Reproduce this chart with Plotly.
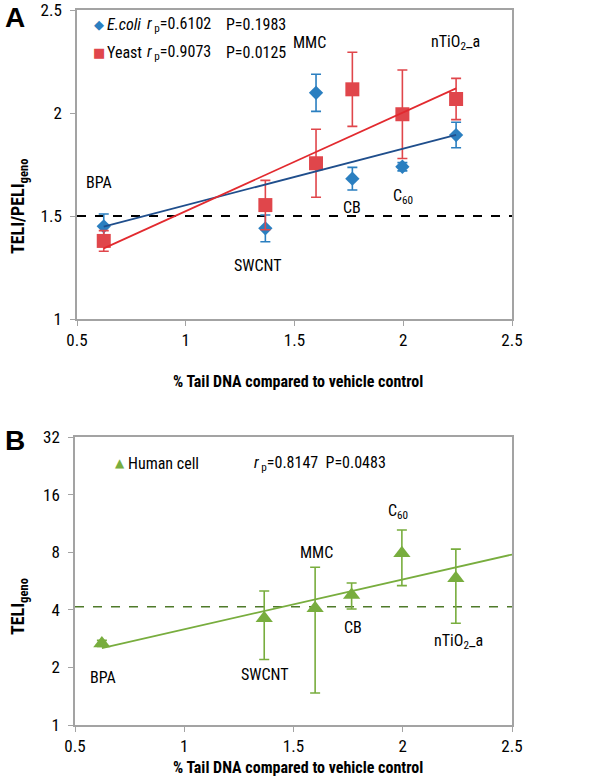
import numpy as np
import plotly.graph_objects as go

# ---------------- data ----------------
compounds = ["BPA", "SWCNT", "MMC", "CB", "C60", "nTiO2_a"]
tail_dna = [0.623, 1.366, 1.599, 1.766, 1.996, 2.243]

ecoli_ratio = [1.45, 1.44, 2.098, 1.681, 1.739, 1.893]
ecoli_err = [0.06, 0.065, 0.09, 0.055, 0.02, 0.062]

yeast_ratio = [1.379, 1.553, 1.756, 2.115, 1.994, 2.068]
yeast_err = [0.05, 0.12, 0.165, 0.18, 0.215, 0.10]

human_teli = [2.67, 3.61, 4.07, 4.78, 7.9, 5.85]
human_err = [0.1, 1.41, 2.6, 0.74, 2.55, 2.45]

threshold_a = 1.5
threshold_b = 4.15

ytick_a = [1, 1.5, 2, 2.5]
ytick_b = [1, 2, 4, 8, 16, 32]
xtick = [0.5, 1, 1.5, 2, 2.5]
xtick_text = ["0.5", "1", "1.5", "2", "2.5"]

stats_ecoli = ("0.6102", "0.1983")
stats_yeast = ("0.9073", "0.0125")
stats_human = ("0.8147", "0.0483")

# label text positions (x, y) in data units
labels_a = {"BPA": (0.60, 1.665), "SWCNT": (1.332, 1.262), "MMC": (1.571, 2.34),
            "CB": (1.764, 1.539), "C60": (1.999, 1.594), "nTiO2_a": (2.238, 2.34)}
labels_b = {"BPA": (0.627, 1.77), "SWCNT": (1.371, 1.84), "MMC": (1.607, 7.95),
            "CB": (1.772, 3.22), "C60": (1.979, 13.0), "nTiO2_a": (2.253, 2.72)}
label_html = {"BPA": "BPA", "SWCNT": "SWCNT", "MMC": "MMC", "CB": "CB",
              "C60": "C<sub>60</sub>", "nTiO2_a": "nTiO<sub>2</sub>_a"}

# ---------------- style ----------------
FONT = "Liberation Sans Narrow, Arial Narrow, Roboto Condensed, Liberation Sans, Arial, sans-serif"
BOLDFONT = "Liberation Sans, Arial, sans-serif"
BLUE = "#2b7fc0"
BLUE_LINE = "#1f4e8c"
RED = "#e0464b"
RED_LINE = "#e22a2f"
GREEN = "#78ad3e"
GREEN_DASH = "#4f7a2a"
AXIS = "#a3a3a3"

W, H = 600, 783


def px(xp, yp):
    return xp / W, 1 - yp / H


def xdom(a, b):
    return [a / W, b / W]


def ydom(top, bottom):
    return [1 - bottom / H, 1 - top / H]


x = np.array(tail_dna)

fig = go.Figure()


def fit_line(xs, ys, xe):
    k, b = np.polyfit(xs, ys, 1)
    return [k * v + b for v in xe]


# ---- Panel A ----
x_ends = [x.min(), x.max()]
fig.add_trace(go.Scatter(x=[0.5, 2.5], y=[threshold_a, threshold_a], mode="lines",
                         line=dict(color="black", width=2, dash="dash"),
                         xaxis="x", yaxis="y", showlegend=False, hoverinfo="skip"))
fig.add_trace(go.Scatter(x=tail_dna, y=ecoli_ratio, mode="markers",
                         marker=dict(symbol="diamond", size=11, color=BLUE),
                         error_y=dict(type="data", array=ecoli_err, color=BLUE, thickness=1.6, width=5),
                         xaxis="x", yaxis="y", showlegend=False))
fig.add_trace(go.Scatter(x=tail_dna, y=yeast_ratio, mode="markers",
                         marker=dict(symbol="square", size=14, color=RED),
                         error_y=dict(type="data", array=yeast_err, color=RED, thickness=1.6, width=5),
                         xaxis="x", yaxis="y", showlegend=False))
fig.add_trace(go.Scatter(x=x_ends, y=fit_line(x, np.array(ecoli_ratio), x_ends), mode="lines",
                         line=dict(color=BLUE_LINE, width=1.8), xaxis="x", yaxis="y",
                         showlegend=False, hoverinfo="skip"))
fig.add_trace(go.Scatter(x=x_ends, y=fit_line(x, np.array(yeast_ratio), x_ends), mode="lines",
                         line=dict(color=RED_LINE, width=1.8), xaxis="x", yaxis="y",
                         showlegend=False, hoverinfo="skip"))

# ---- Panel B ----
fig.add_trace(go.Scatter(x=[0.5, 2.5], y=[threshold_b, threshold_b], mode="lines",
                         line=dict(color=GREEN_DASH, width=1.6, dash="dash"),
                         xaxis="x2", yaxis="y2", showlegend=False, hoverinfo="skip"))
fig.add_trace(go.Scatter(x=tail_dna, y=human_teli, mode="markers",
                         marker=dict(symbol="triangle-up", size=15, color=GREEN),
                         error_y=dict(type="data", array=human_err, color=GREEN, thickness=1.6, width=5),
                         xaxis="x2", yaxis="y2", showlegend=False))
kb, bb = np.polyfit(x, np.log(np.array(human_teli)), 1)
xb_ends = [x.min(), 2.5]
fig.add_trace(go.Scatter(x=xb_ends, y=[float(np.exp(kb * v + bb)) for v in xb_ends], mode="lines",
                         line=dict(color=GREEN, width=1.8), xaxis="x2", yaxis="y2",
                         showlegend=False, hoverinfo="skip"))

axis_common = dict(showline=True, linecolor=AXIS, linewidth=1.6, mirror=True,
                   ticks="outside", tickcolor=AXIS, ticklen=5, tickwidth=1.4,
                   showgrid=False, zeroline=False, automargin=False, ticklabeloverflow="allow",
                   tickfont=dict(family=FONT, size=17, color="black"))

fig.update_layout(
    width=W, height=H, margin=dict(l=0, r=0, t=0, b=0, autoexpand=False),
    paper_bgcolor="white", plot_bgcolor="white",
    xaxis=dict(domain=xdom(77, 512), range=[0.5, 2.5], tickvals=xtick, ticktext=xtick_text,
               anchor="y", **axis_common),
    yaxis=dict(domain=ydom(10, 319), range=[1, 2.5], tickvals=ytick_a,
               ticktext=[str(v) for v in ytick_a], anchor="x", ticklabelstandoff=5, **axis_common),
    xaxis2=dict(domain=xdom(75, 512), range=[0.5, 2.5], tickvals=xtick, ticktext=xtick_text,
                anchor="y2", **axis_common),
    yaxis2=dict(domain=ydom(437, 725), type="log", range=[0, np.log10(32)],
                tickvals=ytick_b, ticktext=[str(v) for v in ytick_b], anchor="x2",
                ticklabelstandoff=5, **axis_common),
)

ann = []
C = dict(xanchor="center", yanchor="middle", showarrow=False)
lbl_font = dict(family=FONT, size=16, color="black")
for c in compounds:
    lx, ly = labels_a[c]
    ann.append(dict(x=lx, y=ly, xref="x", yref="y", text=label_html[c], font=lbl_font, **C))
    lx, ly = labels_b[c]
    ann.append(dict(x=lx, y=float(np.log10(ly)), xref="x2", yref="y2", text=label_html[c],
                    font=lbl_font, **C))

L = dict(xanchor="left", yanchor="middle", showarrow=False, xref="paper", yref="paper")
leg_font = dict(family=FONT, size=16, color="black")
legend_rows = [
    (25, "◆", BLUE, "<i>E.coli</i>", stats_ecoli),
    (52, "■", RED, "Yeast", stats_yeast),
]
for yp, glyph, col, name, (r, p) in legend_rows:
    ax_, ay_ = px(99, yp)
    ann.append(dict(x=ax_, y=ay_, xref="paper", yref="paper", text=glyph,
                    font=dict(family="DejaVu Sans", size=13, color=col), **C))
    ax_, ay_ = px(105, yp)
    ann.append(dict(x=ax_, y=ay_, text=name, font=leg_font, **L))
    ax_, ay_ = px(145, yp)
    ann.append(dict(x=ax_, y=ay_, text="<i>r</i><sub> p</sub>=" + r, font=leg_font, **L))
    ax_, ay_ = px(224, yp)
    ann.append(dict(x=ax_, y=ay_, text="P=" + p, font=leg_font, **L))

ax_, ay_ = px(120, 463)
ann.append(dict(x=ax_, y=ay_, xref="paper", yref="paper", text="▲",
                font=dict(family="DejaVu Sans", size=12, color=GREEN), **C))
ax_, ay_ = px(126, 463)
ann.append(dict(x=ax_, y=ay_, text="Human cell", font=leg_font, **L))
ax_, ay_ = px(252, 463)
ann.append(dict(x=ax_, y=ay_, text=f"<i>r</i><sub> p</sub>={stats_human[0]}  P={stats_human[1]}",
                font=leg_font, **L))

# panel letters
for letter, yp in (("A", 17), ("B", 440)):
    ax_, ay_ = px(15, yp)
    ann.append(dict(x=ax_, y=ay_, xref="paper", yref="paper", text=f"<b>{letter}</b>",
                    font=dict(family=BOLDFONT, size=28, color="black"), **C))

# axis titles
title_font = dict(family=FONT, size=16, color="black")
for yp in (381, 767):
    ax_, ay_ = px(298, yp)
    ann.append(dict(x=ax_, y=ay_, xref="paper", yref="paper",
                    text="<b>% Tail DNA compared to vehicle control</b>", font=title_font, **C))
ax_, ay_ = px(19, 207)
ann.append(dict(x=ax_, y=ay_, xref="paper", yref="paper", text="<b>TELI/PELI<sub>geno</sub></b>",
                textangle=-90, font=dict(family=FONT, size=18, color="black"), **C))
ax_, ay_ = px(19, 607)
ann.append(dict(x=ax_, y=ay_, xref="paper", yref="paper", text="<b>TELI<sub>geno</sub></b>",
                textangle=-90, font=dict(family=FONT, size=18, color="black"), **C))

fig.update_layout(annotations=ann)
fig.write_html("out.html", config={"displayModeBar": False},
               post_script="document.body.style.margin='0';document.body.style.padding='0';")
